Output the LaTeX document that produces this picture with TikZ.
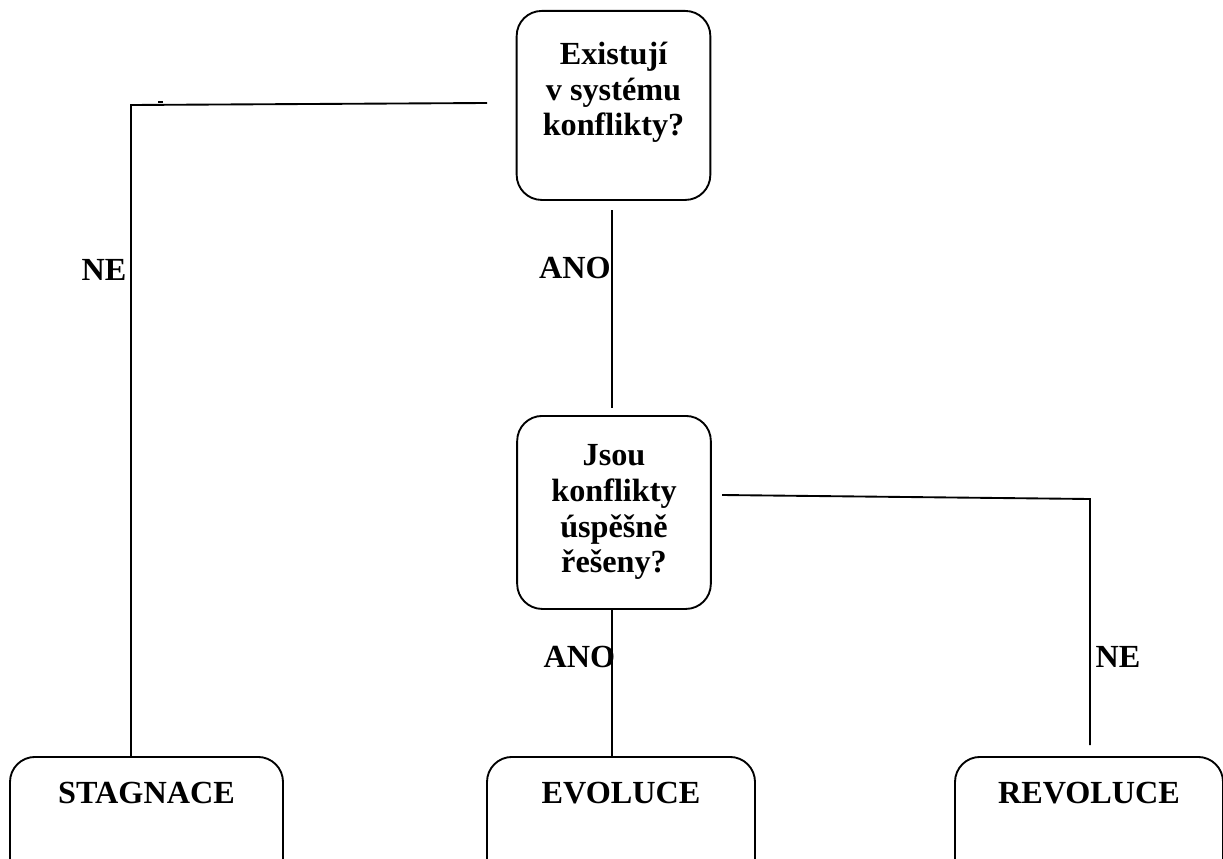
\documentclass[tikz,border=0pt]{standalone}
\usepackage{fontspec}
\setmainfont{Liberation Serif}
\usetikzlibrary{positioning}
\tikzset{
  box/.style={draw,line width=1.6pt,rounded corners=7.5mm,inner sep=0pt,align=center,anchor=north,
    font=\fontsize{27.5}{30.6}\selectfont\bfseries},
  tag/.style={inner sep=0pt,anchor=base,font=\fontsize{27.5}{30.6}\selectfont\bfseries},
  link/.style={line width=1.6pt}
}

\begin{document}
\begin{tikzpicture}[x=0.3mm,y=-0.3mm]
    \clip (0,0) rectangle (1223,859);

    \node[box,minimum width=58.1mm,text height=37.5mm,text depth=19.2mm] (q1) at (613.5,10) {Existují\\v systému\\konflikty?};
    \node[box,minimum width=58.1mm,text height=47.1mm,text depth=10.8mm] (q2) at (614,415) {Jsou\\konflikty\\úspěšně\\řešeny?};

    \node[box,minimum width=81.9mm,text height=14.1mm,text depth=30mm] (stag) at (146.5,756) {STAGNACE};
    \node[box,minimum width=80.4mm,text height=14.1mm,text depth=30mm] (evo) at (621,756) {EVOLUCE};
    \node[box,minimum width=80.4mm,text height=14.1mm,text depth=30mm] (rev) at (1089,756) {REVOLUCE};

    \coordinate (neA) at (487,103);
    \coordinate (neB) at (131,105);
    \draw[link] (neA) -- (neB) -- (neB |- stag.north);
    \draw[link] (158,102) -- (163,102);

    \coordinate (anoA) at (612,210);
    \coordinate (anoB) at (612,408);
    \draw[link] (anoA) -- (anoB);
    \draw[link] (q2.south -| anoA) -- (anoA |- evo.north);

    \coordinate (revA) at (722,495);
    \coordinate (revB) at (1090,499);
    \coordinate (revC) at (1090,745);
    \draw[link] (revA) -- (revB) -- (revC);

    \node[tag] (ne1) at (104,280) {NE};
    \node[tag] (ano1) at (575,278) {ANO};
    \node[tag] (ano2) at (579.5,667) {ANO};
    \node[tag] (ne2) at (1118,667) {NE};
\end{tikzpicture}
\end{document}
